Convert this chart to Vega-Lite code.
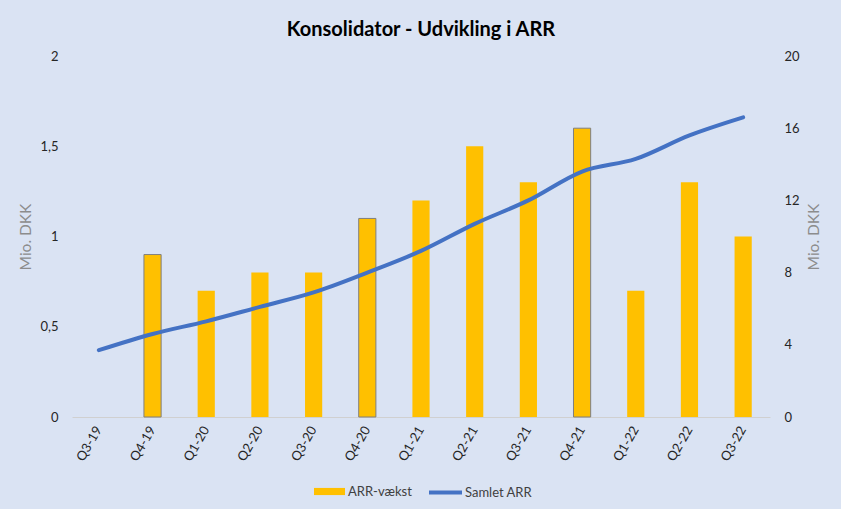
{
  "$schema": "https://vega.github.io/schema/vega-lite/v6.json",
  "width": 698,
  "height": 361,
  "autosize": {"type": "none"},
  "padding": {"left": 72, "top": 56, "right": 71, "bottom": 92},
  "background": "#DAE3F3",
  "config": {"view": {"stroke": null}, "font": "Lato"},
  "title": {"text": "Konsolidator - Udvikling i ARR", "font": "Lato", "fontSize": 20, "fontWeight": "bold", "color": "#000000", "anchor": "middle", "offset": 10},
  "data": {"values": [
    {"q": "Q3-19", "vaekst": 0, "arr": 3.7},
    {"q": "Q4-19", "vaekst": 0.9, "arr": 4.6},
    {"q": "Q1-20", "vaekst": 0.7, "arr": 5.3},
    {"q": "Q2-20", "vaekst": 0.8, "arr": 6.1},
    {"q": "Q3-20", "vaekst": 0.8, "arr": 6.9},
    {"q": "Q4-20", "vaekst": 1.1, "arr": 8.0},
    {"q": "Q1-21", "vaekst": 1.2, "arr": 9.2},
    {"q": "Q2-21", "vaekst": 1.5, "arr": 10.7},
    {"q": "Q3-21", "vaekst": 1.3, "arr": 12.0},
    {"q": "Q4-21", "vaekst": 1.6, "arr": 13.6},
    {"q": "Q1-22", "vaekst": 0.7, "arr": 14.3},
    {"q": "Q2-22", "vaekst": 1.3, "arr": 15.6},
    {"q": "Q3-22", "vaekst": 1.0, "arr": 16.6}
  ]},
  "encoding": {
    "x": {
      "field": "q", "type": "nominal", "sort": null,
      "scale": {"paddingInner": 0.68, "paddingOuter": 0.34},
      "axis": {"title": null, "labelAngle": -60, "labelFont": "Lato", "labelFontSize": 13, "labelColor": "#262626", "labelPadding": 10, "ticks": false, "domainColor": "#D0D0D0", "domainWidth": 1, "grid": false}
    }
  },
  "layer": [
    {
      "mark": {"type": "bar", "stroke": "#7F7F7F", "strokeWidth": 1},
      "encoding": {
        "y": {
          "field": "vaekst", "type": "quantitative",
          "scale": {"domain": [0, 2], "nice": false},
          "axis": {"title": "Mio. DKK", "titleColor": "#8C8C8C", "titleFontSize": 15.5, "titleFontWeight": "normal", "titleFont": "Lato", "titlePadding": 6, "values": [0, 0.5, 1, 1.5, 2], "labelExpr": "replace(format(datum.value, '~g'), '.', ',')", "labelFont": "Lato", "labelFontSize": 13, "labelColor": "#262626", "labelPadding": 14, "ticks": false, "domain": false, "grid": false}
        },
        "fill": {"datum": "ARR-vækst", "scale": {"domain": ["ARR-vækst"], "range": ["#FFC000"]},
          "legend": {"title": null, "orient": "none", "legendX": 242, "legendY": 420, "symbolType": "M-1,-0.23H1V0.23H-1Z", "symbolSize": 961, "symbolStrokeWidth": 0, "labelFont": "Lato", "labelFontSize": 13, "labelColor": "#404040", "labelOffset": 3}},
        "strokeOpacity": {"condition": {"test": "indexof(datum.q, 'Q4') === 0", "value": 1}, "value": 0}
      }
    },
    {
      "mark": {"type": "line", "strokeWidth": 4, "interpolate": "monotone", "strokeCap": "round"},
      "encoding": {
        "y": {
          "field": "arr", "type": "quantitative",
          "scale": {"domain": [0, 20], "nice": false},
          "axis": {"orient": "right", "title": "Mio. DKK", "titleAngle": 270, "titleColor": "#8C8C8C", "titleFontSize": 15.5, "titleFontWeight": "normal", "titleFont": "Lato", "titlePadding": 22, "values": [0, 4, 8, 12, 16, 20], "labelFont": "Lato", "labelFontSize": 13, "labelColor": "#262626", "labelPadding": 14, "ticks": false, "domain": false, "grid": false}
        },
        "stroke": {"datum": "Samlet ARR", "scale": {"domain": ["Samlet ARR"], "range": ["#4472C4"]},
          "legend": {"title": null, "orient": "none", "legendX": 355, "legendY": 418, "symbolType": "stroke", "symbolSize": 1089, "symbolStrokeWidth": 4, "labelFont": "Lato", "labelFontSize": 13, "labelColor": "#404040", "labelOffset": 1}}
      }
    }
  ],
  "resolve": {"scale": {"y": "independent"}}
}
